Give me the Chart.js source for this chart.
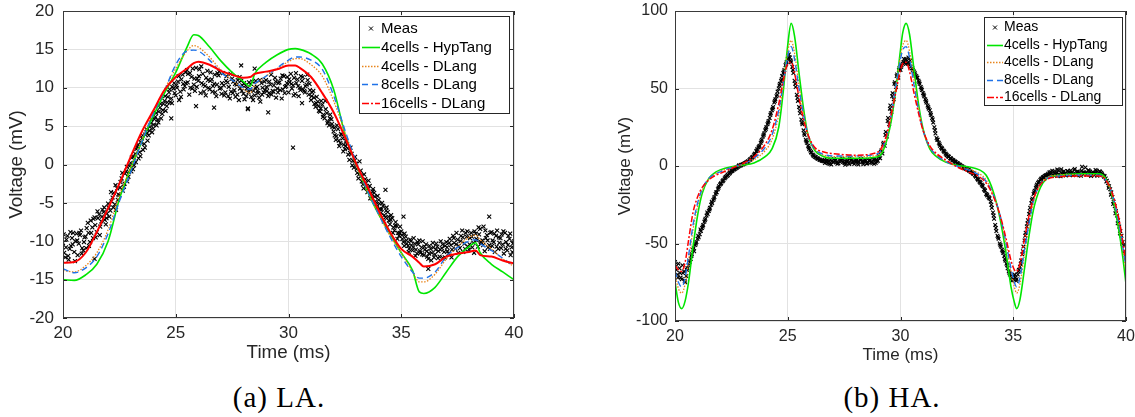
<!DOCTYPE html>
<html><head><meta charset="utf-8">
<script src="https://cdn.jsdelivr.net/npm/chart.js@4.4.1/dist/chart.umd.min.js"></script>
<style>
html,body{margin:0;padding:0;background:#fff;width:1135px;height:417px;overflow:hidden;}
canvas{position:absolute;top:0;}
#cA{left:0;}
#cB{left:595px;}
.cap{position:absolute;font-family:"Liberation Serif","DejaVu Serif",serif;font-size:29px;letter-spacing:1px;line-height:32px;color:#000;white-space:nowrap;transform:translateX(-50%);}
</style></head><body>
<canvas id="cA" width="540" height="370"></canvas>
<canvas id="cB" width="540" height="373"></canvas>
<div class="cap" style="left:279px;top:381px">(a) LA.</div>
<div class="cap" style="left:892px;top:381px">(b) HA.</div>
<script>
// ---------- DATA ----------
const SERIES_LABELS = ['Meas', '4cells - HypTang', '4cells - DLang', '8cells - DLang', '16cells - DLang'];
const X_TICKS = [20, 25, 30, 35, 40];
const LA_Y_TICKS = [-20, -15, -10, -5, 0, 5, 10, 15, 20];
const HA_Y_TICKS = [-100, -50, 0, 50, 100];

// measurement sample grids (ms)
const MEAS_T_A = []; for (let i = 0; i <= 200; i++) MEAS_T_A.push(+(20 + i * 0.1).toFixed(2));
const MEAS_T_B = []; for (let i = 0; i < 200; i++) MEAS_T_B.push(+(20.05 + i * 0.1).toFixed(2));
const MEAS_T_C = []; for (let i = 0; i < 200; i++) MEAS_T_C.push(+(20.03 + i * 0.1).toFixed(2));

// ---- LA ----
const LA_MEAS_A = [
-10.2,-12.1,-9.3,-11.0,-9.6,-11.4,-9.0,-10.3,-8.6,-11.2,
-9.4,-7.6,-10.1,-8.2,-6.9,-8.8,-6.5,-7.4,-6.2,-7.8,
-5.1,-6.0,-4.3,-5.2,-3.1,-4.0,-1.8,-2.9,-0.9,-1.6,
0.2,-0.6,1.4,2.3,1.6,3.4,2.7,4.6,3.8,5.4,
4.7,6.2,5.8,7.4,6.6,8.3,7.6,9.4,8.6,9.9,
9.0,10.8,9.5,11.7,10.2,12.3,9.1,11.4,10.4,12.6,
10.9,9.3,11.8,10.2,12.2,9.8,11.1,10.5,8.9,11.6,
10.0,11.9,9.4,10.7,8.6,11.2,9.7,10.4,8.4,10.9,
9.2,10.3,7.3,9.8,10.8,9.0,10.1,8.7,10.6,9.4,
11.0,8.9,10.4,9.6,11.3,9.9,10.7,8.6,11.5,10.2,
9.4,11.8,10.3,9.2,11.1,10.0,10.9,9.6,10.4,9.1,
8.4,9.6,7.5,8.2,6.9,7.8,6.0,6.7,5.1,5.9,
4.3,3.2,4.6,2.8,3.4,2.0,2.7,0.6,1.4,-0.4,
0.1,-1.8,-0.8,-2.6,-1.9,-3.6,-2.8,-4.4,-3.7,-5.2,
-4.6,-6.3,-5.4,-6.9,-6.2,-7.8,-7.0,-8.6,-8.0,-9.3,
-8.7,-10.1,-9.4,-10.6,-9.8,-11.2,-10.3,-11.6,-9.9,-10.8,
-11.8,-10.4,-12.3,-11.0,-10.2,-11.7,-10.7,-12.0,-10.9,-11.4,
-10.1,-11.6,-10.5,-9.3,-11.0,-9.8,-10.9,-8.6,-10.3,-9.4,
-11.1,-8.9,-10.2,-9.0,-10.7,-8.4,-9.9,-11.3,-9.2,-10.5,
-8.8,-10.1,-9.3,-11.0,-9.6,-10.4,-8.9,-11.2,-9.7,-10.8,
-10.0];
const LA_MEAS_B = [
-11.5,-9.8,-12.4,-10.6,-8.9,-10.0,-11.8,-9.2,-10.9,-9.5,
-8.3,-10.6,-8.9,-7.1,-9.5,-7.0,-8.1,-5.9,-7.2,-6.4,
-6.8,-4.8,-3.7,-5.9,-3.9,-2.3,-3.4,-1.2,-2.2,-0.2,
0.9,-0.1,2.0,0.8,2.9,1.9,3.9,3.1,4.9,4.2,
5.9,5.1,6.9,6.0,7.9,7.0,8.8,8.1,10.1,9.3,
10.0,8.4,11.1,9.8,10.6,11.8,10.0,12.5,9.6,11.2,
12.4,10.6,9.5,11.3,10.0,12.0,10.2,9.4,11.9,9.9,
10.6,9.0,11.5,10.1,9.5,10.8,8.8,11.0,9.9,10.3,
8.5,9.9,10.7,8.8,9.6,10.9,9.3,8.2,10.0,9.7,
9.6,10.8,9.1,10.3,8.7,10.6,11.2,9.8,10.1,11.4,
10.7,9.9,11.3,10.6,8.9,11.5,9.8,10.2,11.0,9.7,
9.4,7.9,8.8,7.0,8.3,6.5,7.2,5.6,6.5,4.9,
3.8,5.1,2.4,3.9,2.6,3.1,1.3,2.2,0.5,1.0,
-1.1,0.4,-2.2,-1.3,-3.0,-2.1,-3.9,-3.2,-4.8,-4.1,
-5.8,-5.0,-6.6,-5.6,-7.3,-6.6,-8.2,-7.5,-8.9,-8.1,
-9.7,-9.0,-10.3,-11.0,-10.5,-9.6,-11.1,-10.4,-11.5,-10.0,
-11.1,-12.0,-10.6,-11.5,-12.1,-10.3,-11.3,-10.0,-12.2,-10.6,
-11.3,-9.7,-11.1,-10.2,-8.9,-10.6,-9.3,-11.4,-8.9,-10.7,
-9.6,-10.8,-8.7,-9.9,-9.1,-10.3,-8.1,-9.6,-10.8,-8.9,
-9.9,-11.4,-8.6,-10.2,-9.1,-11.6,-10.1,-9.3,-11.8,-10.3];
const LA_MEAS_C = [
-9.1,-10.8,-11.9,-8.8,-10.4,-12.6,-9.9,-8.9,-11.6,-10.1,
-10.9,-8.9,-7.3,-9.6,-7.9,-6.1,-9.2,-6.8,-5.6,-7.0,
-5.6,-3.6,-5.6,-2.7,-4.6,-3.0,-1.1,-2.5,-0.3,-1.0,
-0.9,1.0,0.3,2.6,1.1,3.8,2.2,4.1,4.4,5.9,
5.2,6.7,5.5,7.9,7.1,8.9,8.1,9.8,8.0,10.6,
10.3,11.5,8.8,10.5,12.0,10.7,11.9,9.9,11.2,10.1,
11.5,12.8,10.4,9.0,11.0,10.9,9.5,11.7,10.4,12.1,
9.2,10.3,10.9,8.9,11.8,9.3,10.5,9.1,11.4,9.6,
10.6,8.9,9.4,10.5,8.4,10.0,9.6,11.0,9.1,10.8,
10.1,9.3,11.7,9.5,10.8,9.4,9.7,11.6,9.3,10.6,
11.1,10.5,9.0,11.9,10.2,9.7,11.4,9.4,11.7,10.5,
8.9,8.7,8.0,7.6,7.3,6.2,8.3,5.4,6.0,5.3,
4.8,3.7,3.1,4.0,1.7,2.4,2.1,1.5,-0.1,0.5,
-0.6,-1.3,-1.5,-3.1,-2.4,-3.2,-4.4,-3.5,-4.2,-5.6,
-5.1,-5.8,-7.4,-6.0,-6.8,-7.2,-8.9,-8.0,-9.7,-8.9,
-9.2,-10.6,-9.9,-11.4,-10.0,-10.8,-11.9,-10.1,-11.3,-11.7,
-10.7,-11.3,-11.6,-12.5,-10.8,-11.1,-12.2,-11.1,-10.4,-12.1,
-10.8,-10.2,-12.1,-9.6,-10.4,-11.5,-10.0,-9.5,-11.0,-8.7,
-10.4,-9.4,-11.5,-9.7,-8.2,-10.1,-10.5,-8.6,-9.9,-11.0,
-10.6,-9.0,-10.7,-9.5,-10.9,-8.7,-11.0,-10.5,-9.0,-11.4];
const LA_OUT_T = [24.8, 25.9, 26.7, 27.9, 28.2, 28.5, 29.1, 30.2, 30.6, 34.3, 35.1, 36.2, 38.9, 21.4];
const LA_OUT_V = [6.0, 7.6, 7.4, 12.9, 7.2, 12.5, 6.8, 2.2, 8.0, -3.3, -6.8, -13.6, -6.8, -12.3];

const LA_T_MODEL = [20,20.5,21,21.5,22,22.5,23,23.5,24,24.5,25,25.5,25.8,26,26.5,27,27.5,28,28.3,28.5,29,29.5,30,30.3,30.5,31,31.5,32,32.5,33,33.5,34,34.5,35,35.5,35.8,36,36.5,37,37.5,38,38.3,38.5,39,39.5,40];
const LA_HYPTANG_4 = [-15.0,-15.1,-14.4,-13.0,-10.0,-4.5,-0.5,3.0,6.3,9.3, 12.0,15.3,16.9,16.8,15.3,13.5,12.0,10.8,10.2,11.8, 13.3,14.3,15.0,15.1,15.0,14.4,13.1,9.8,4.0,0.0, -3.5,-6.5,-9.0,-11.5,-13.8,-16.6,-16.8,-16.0,-14.0,-12.0, -10.7,-10.2,-11.5,-13.0,-14.0,-15.0];
const LA_DLANG_4 = [-13.8,-14.0,-13.2,-11.5,-8.5,-4.0,-0.5,3.2,6.8,9.8, 12.5,14.8,15.5,15.3,14.0,12.3,11.0,9.8,9.3,10.3, 11.5,12.5,13.4,13.8,13.8,13.0,11.5,8.3,4.2,0.0, -3.5,-6.5,-9.3,-11.5,-14.0,-15.3,-15.3,-14.3,-12.3,-10.7, -9.5,-9.2,-9.8,-11.0,-12.3,-13.3];
const LA_DLANG_8 = [-13.6,-14.1,-13.5,-12.0,-9.0,-4.8,-1.0,3.0,6.6,9.6, 13.0,14.8,14.9,14.8,13.6,12.0,11.0,10.0,9.8,10.5, 11.5,12.6,13.6,14.0,14.0,13.6,12.4,9.0,4.5,0.3, -3.4,-6.5,-9.4,-12.0,-14.0,-14.8,-14.8,-14.0,-12.0,-10.8, -10.0,-9.8,-10.3,-11.2,-12.2,-13.3];
const LA_DLANG_16 = [-12.8,-12.7,-11.5,-8.8,-5.7,-2.5,1.0,4.3,7.0,9.7, 11.4,12.5,13.2,13.4,13.0,12.2,11.7,11.3,11.4,11.8, 12.1,12.4,12.9,12.9,12.6,11.4,9.3,6.8,3.6,0.1, -2.9,-6.0,-8.8,-11.0,-12.0,-12.8,-13.3,-13.0,-12.0,-11.6, -11.4,-11.2,-11.8,-12.0,-12.5,-12.9];

// ---- HA ----
const HA_MEAS_A = [
-62,-70,-66,-73,-68,-71,-64,-60,-54,-51,
-47,-44,-40,-36,-32,-29,-25,-22,-18,-15,
-12,-10,-8,-6.5,-5,-3.5,-2.5,-1.5,-0.5,0.2,
1.0,1.8,2.6,3.8,5.2,7,9.5,12,15,19,
23,27,31,36,41,45,50,55,60,65,
69,70,64,55,46,38,30,23,17,13,
10,7.5,6,5,4.2,3.5,3,
3.2,1.8,4.0,2.5,3.6,1.4,2.9,4.3,2.2,3.1,1.6,3.8,2.4,3.3,1.9,4.1,2.7,3.0,1.5,3.5,2.6,4.4,2.0,3.4,
5,8,13,19,27,35,43,51,57,
62,66,67,68,66,63,61,58,55,51,
47,43,39,36,31,25,18,15,12,10,
8,6.5,5,4,3,2,1,0,-1,-1.8,
-2.5,-3.5,-4.5,-6,-8,-10,-12,-15,-18,-20,
-23,-30,-38,-45,-50,-54,-58,-63,-68,-71,
-73,-72,-70,-65,-57,-48,-39,-31,-24,-18,
-14,-11,-9,-7.5,-6.5,-5.8,
-4.2,-6.1,-3.5,-5.4,-2.8,-6.6,-4.0,-5.0,-3.2,-5.9,-4.6,-2.5,-5.6,-3.8,-6.3,-4.4,-1.0,-5.2,-3.6,-4.9,-6.0,-3.0,-5.5,-4.3,-6.2,
-8,-11,-15,-20,-26,-32,-39,-45,-51,-57];
const HA_MEAS_B = [
-67,-63,-72,-69,-75,-66,-62,-57,-55,-49,
-46,-42,-38,-34,-31,-27,-24,-20,-17,-13,
-11,-9,-7,-6,-4,-3,-2,-1,0.5,0.9,
1.4,2.2,3.1,4.5,6,8,11,13,17,21,
25,29,34,38,43,48,53,58,62,67,
72,67,60,51,42,34,27,20,15,11,
8.5,6.5,5.5,4.6,3.8,3.2,
2.0,3.7,1.2,3.0,4.6,2.3,1.7,3.9,2.6,0.8,3.4,4.8,2.1,1.3,3.6,2.8,4.5,1.1,3.2,2.4,3.9,1.8,4.2,2.9,6.5,
10,15,22,31,39,47,54,59,63,
65,69,66,70,64,62,59,57,53,49,
45,41,37,33,28,21,17,13,11,9,
7,6,4.5,3.5,2.5,1.5,0.5,-0.5,-1.5,-2,
-3,-4,-5,-7,-9,-11,-13,-16,-19,-21,
-27,-34,-42,-47,-52,-56,-61,-66,-70,-74,
-70,-73,-67,-61,-52,-43,-35,-27,-21,-16,
-12,-10,-8,-7,-6,-5,
-3.8,-5.6,-4.9,-2.2,-6.3,-4.5,-3.3,-5.8,-4.1,-2.9,-6.0,-4.8,-3.5,-5.3,-0.5,-4.0,-5.7,-3.1,-6.5,-4.7,-2.6,-5.1,-3.9,-5.6,
-6.5,-9.5,-13,-17,-23,-29,-35,-42,-49,-55];
const HA_MEAS_C = [
-65,-72,-69,-64,-74,-67,-61,-58,-53,-50,
-45,-41,-39,-35,-30,-28,-23,-21,-17,-14,
-11.5,-9.5,-7.5,-5.5,-4.5,-3,-2,-1,0,0.6,
1.2,2.0,2.9,4.2,5.6,7.6,10,12.5,16,20,
24,28,33,37,42,46,52,56,61,66,
70,68,62,53,44,36,28,21,16,12,
9,7,5.8,4.8,4.0,3.3,
4.1,2.2,3.3,1.0,2.7,3.9,1.9,3.5,4.7,2.0,2.8,1.2,4.2,3.0,2.5,0.9,3.7,2.2,4.0,1.7,3.1,2.6,1.4,3.8,5.5,
9,14,20,29,37,45,53,58,62,
64,67,69,66,68,63,60,57,54,50,
46,42,38,34,30,23,17,14,11.5,9.5,
7.5,6,5,3.8,2.8,1.8,0.8,-0.3,-1.2,-2,
-2.8,-3.8,-5,-6.5,-8.5,-10.5,-12.5,-15.5,-18.5,-20.5,
-25,-32,-40,-46,-51,-55,-60,-64,-69,-72,
-71,-74,-68,-63,-55,-45,-37,-29,-22,-17,
-13,-10.5,-8.5,-7.2,-6.2,-5.5,
-5.0,-3.1,-6.4,-4.3,-5.2,-2.1,-4.8,-6.1,-3.4,-4.5,-5.3,-2.0,-4.1,-6.0,-3.0,-5.4,-4.2,-2.7,-5.9,-3.9,-4.6,-6.3,-3.3,-5.0,
-7,-10,-14,-18.5,-24.5,-30.5,-37,-43.5,-50,-56];

const HA_T_MODEL = [20,20.15,20.3,20.45,20.6,20.8,21,21.2,21.5,21.8, 22,22.5,23,23.5,24,24.3,24.6,24.8,25,25.15, 25.3,25.5,25.7,25.9,26.2,26.6,27,28,29,29.2, 29.4,29.6,29.8,30,30.1,30.25,30.4,30.6,30.8,31, 31.3,31.6,32,32.5,33,33.5,33.8,34.1,34.4,34.7, 34.9,35.05,35.15,35.3,35.5,35.7,35.9,36.2,36.5,37, 38,38.8,39.1,39.4,39.7,39.85,40];
const HA_HYPTANG_4 = [-75,-88,-92,-87,-75,-52,-32,-18,-8,-4, -2.5,-0.5,0.5,2,6,11,25,48,78,92, 84,60,37,20,10,6,5,5,6,9, 17,30,50,75,86,92,85,62,40,24, 11,6,2.5,0.5,-0.5,-2.5,-6,-16,-33,-58, -78,-88,-92,-86,-66,-45,-28,-14,-8,-6, -5,-5,-8,-20,-43,-58,-76];
const HA_DLANG_4 = [-70,-79,-82,-76,-62,-41,-26,-16,-8.5,-5, -3.5,-1,1,4,10,17,33,52,74,81, 73,52,34,20,11,7,6,6,7,11, 19,33,52,71,78,81,74,55,37,23, 12,7,3,0,-2,-5,-9,-18,-31,-52, -68,-78,-82,-76,-57,-38,-23,-12,-7.5,-6, -5.5,-6,-8.5,-19,-39,-53,-69];
const HA_DLANG_8 = [-68,-75,-78,-72,-58,-38,-24,-15,-8,-5, -3.8,-1,1.2,5,12,20,36,53,71,77, 69,50,33,20,11,7.5,6.5,6.5,8,12, 20,34,52,69,75,77,70,52,36,23, 12,7,3,0,-2.5,-6,-10,-18,-31,-51, -66,-75,-78,-72,-54,-37,-22,-12,-8,-6.5, -6,-6,-9,-19,-38,-51,-66];
const HA_DLANG_16 = [-64,-67,-68,-62,-48,-30,-20,-14,-9,-6, -4.8,-1.6,1.6,6,14,23,40,55,66,67, 60,44,30,20,12,9,8,7,9,13, 21,34,48,62,66,67,61,47,34,23, 13,8,4,-0.5,-3.8,-7,-11,-19,-31,-48, -61,-67,-68,-63,-47,-32,-21,-12,-8.5,-7, -6.5,-6.5,-9,-18,-35,-48,-62];

// ---------- helpers ----------
const pts = (ts, vs) => ts.map((t, i) => ({x: t, y: vs[i]}));
const FONT = '"Liberation Sans", Arial, Helvetica, sans-serif';
const TXT = '#262626';

const matlabFrame = {
  id: 'matlabFrame',
  afterDatasetsDraw(chart, args, o) {
    const {ctx, chartArea: a, scales: {x, y}} = chart;
    ctx.save();
    ctx.strokeStyle = TXT; ctx.lineWidth = 1; ctx.setLineDash([]);
    ctx.beginPath();
    x.ticks.forEach(t => {
      const p = Math.round(x.getPixelForValue(t.value)) + 0.5;
      ctx.moveTo(p, a.bottom); ctx.lineTo(p, a.bottom - o.tickLen);
      ctx.moveTo(p, a.top); ctx.lineTo(p, a.top + o.tickLen);
    });
    y.ticks.forEach(t => {
      const p = Math.round(y.getPixelForValue(t.value)) + 0.5;
      ctx.moveTo(a.left, p); ctx.lineTo(a.left + o.tickLen, p);
      ctx.moveTo(a.right, p); ctx.lineTo(a.right - o.tickLen, p);
    });
    ctx.stroke();
    ctx.strokeStyle = '#3a3a3a';
    ctx.strokeRect(Math.round(a.left) + 0.5, Math.round(a.top) + 0.5, Math.round(a.right - a.left) - 1, Math.round(a.bottom - a.top) - 1);
    // legend
    const L = o.legend;
    const bx = Math.round(a.left + L.dx), by = Math.round(a.top + L.dy);
    ctx.fillStyle = '#fff'; ctx.fillRect(bx, by, L.w, L.h);
    ctx.strokeStyle = '#262626'; ctx.lineWidth = 1;
    ctx.strokeRect(bx + 0.5, by + 0.5, L.w, L.h);
    ctx.font = L.font; ctx.textBaseline = 'middle'; ctx.textAlign = 'left';
    chart.data.datasets.forEach((ds, i) => {
      const cy = Math.round(by + L.first + i * L.step) + 0.5;
      const x0 = bx + L.s0, x1 = bx + L.s1;
      if (ds.showLine) {
        ctx.strokeStyle = ds.borderColor;
        ctx.lineWidth = ds.legendWidth || ds.borderWidth;
        ctx.setLineDash(ds.legendDash || ds.borderDash || []);
        ctx.beginPath(); ctx.moveTo(x0, cy); ctx.lineTo(x1, cy); ctx.stroke();
        ctx.setLineDash([]);
      } else {
        const cx = (x0 + x1) / 2, r = 2;
        ctx.strokeStyle = '#000'; ctx.lineWidth = 1;
        ctx.beginPath();
        ctx.moveTo(cx - r, cy - r); ctx.lineTo(cx + r, cy + r);
        ctx.moveTo(cx - r, cy + r); ctx.lineTo(cx + r, cy - r);
        ctx.stroke();
      }
      ctx.fillStyle = '#000';
      ctx.fillText(ds.label, bx + L.tx, cy);
    });
    ctx.restore();
  }
};

function makeChart(id, cfg) {
  const lineDs = (label, ts, vs, color, width, dash, order, extra) => Object.assign({
    label, data: pts(ts, vs), showLine: true, borderColor: color, backgroundColor: color,
    borderWidth: width, borderDash: dash, pointRadius: 0, pointHoverRadius: 0,
    cubicInterpolationMode: 'monotone', fill: false, order
  }, extra || {});
  return new Chart(document.getElementById(id), {
    type: 'scatter',
    data: {
      datasets: [
        {label: SERIES_LABELS[0], data: cfg.meas, showLine: false, pointStyle: 'crossRot',
         pointRadius: cfg.markR, pointBorderWidth: 1.1, borderColor: '#000', backgroundColor: '#000',
         pointHoverRadius: 0, order: 5},
        lineDs(SERIES_LABELS[1], cfg.tModel, cfg.s1, '#00e600', 1.6, [], 4),
        lineDs(SERIES_LABELS[2], cfg.tModel, cfg.s2, '#e8851c', 1.3, [1.5, 1.5], 3),
        lineDs(SERIES_LABELS[3], cfg.tModel, cfg.s3, '#1f72e8', 1.4, [6, 4], 2),
        lineDs(SERIES_LABELS[4], cfg.tModel, cfg.s4, '#ff0000', cfg.redW, cfg.redDash, 1, {legendDash: [7, 2, 2, 2], legendWidth: 1.5})
      ]
    },
    options: {
      responsive: false, animation: false, devicePixelRatio: 1,
      layout: {padding: cfg.pad},
      events: [],
      plugins: {legend: {display: false}, tooltip: {enabled: false}, matlabFrame: cfg.frame},
      scales: {
        x: {
          type: 'linear', min: 20, max: 40,
          afterBuildTicks: s => { s.ticks = X_TICKS.map(v => ({value: v})); },
          afterFit: s => { s.height = 50; s.paddingLeft = 0; s.paddingRight = 0; },
          grid: {color: '#e2e2e2', drawTicks: false, lineWidth: 1},
          border: {display: false},
          ticks: {color: TXT, font: {family: FONT, size: cfg.tickSize}, padding: cfg.xPad, maxRotation: 0, autoSkip: false},
          title: {display: true, text: 'Time (ms)', color: TXT, font: {family: FONT, size: cfg.titleSize}, padding: {top: 0, bottom: cfg.xTitlePad}}
        },
        y: {
          type: 'linear', min: cfg.yTicks[0], max: cfg.yTicks[cfg.yTicks.length - 1],
          afterBuildTicks: s => { s.ticks = cfg.yTicks.map(v => ({value: v})); },
          afterFit: s => { s.width = cfg.yW; s.paddingTop = 0; s.paddingBottom = 0; },
          grid: {color: '#e2e2e2', drawTicks: false, lineWidth: 1},
          border: {display: false},
          ticks: {color: TXT, font: {family: FONT, size: cfg.tickSize}, padding: cfg.yPad, autoSkip: false},
          title: {display: true, text: 'Voltage (mV)', color: TXT, font: {family: FONT, size: cfg.titleSize}, padding: {top: cfg.yTitlePad, bottom: 0}}
        }
      }
    },
    plugins: [matlabFrame]
  });
}

makeChart('cA', {
  meas: pts(MEAS_T_A, LA_MEAS_A).concat(pts(MEAS_T_B, LA_MEAS_B), pts(MEAS_T_C, LA_MEAS_C), pts(LA_OUT_T, LA_OUT_V)),
  tModel: LA_T_MODEL, s1: LA_HYPTANG_4, s2: LA_DLANG_4, s3: LA_DLANG_8, s4: LA_DLANG_16,
  redW: 2, redDash: [], markR: 2.8,
  yTicks: LA_Y_TICKS, yW: 63, tickSize: 17, titleSize: 18.8, xPad: 5.5, yPad: 9, xTitlePad: 3.7, yTitlePad: 5.4,
  pad: {left: 0, right: 26, top: 11, bottom: 2},
  frame: {tickLen: 4, legend: {dx: 296, dy: 5, w: 150, h: 97, first: 12, step: 18.75, s0: 3, s1: 21, tx: 22, font: '15px ' + FONT}}
});

makeChart('cB', {
  meas: pts(MEAS_T_A, HA_MEAS_A).concat(pts(MEAS_T_B, HA_MEAS_B), pts(MEAS_T_C, HA_MEAS_C)),
  tModel: HA_T_MODEL, s1: HA_HYPTANG_4, s2: HA_DLANG_4, s3: HA_DLANG_8, s4: HA_DLANG_16,
  redW: 1.5, redDash: [6, 2, 2, 2], markR: 2.6,
  yTicks: HA_Y_TICKS, yW: 80, tickSize: 16, titleSize: 17, xPad: 5.5, yPad: 7, xTitlePad: 5.8, yTitlePad: 19.8,
  pad: {left: 0, right: 9, top: 11, bottom: 2},
  frame: {tickLen: 4, legend: {dx: 309, dy: 6, w: 138, h: 88, first: 10, step: 17.5, s0: 3, s1: 19, tx: 20, font: '14px ' + FONT}}
});
</script>
</body></html>
